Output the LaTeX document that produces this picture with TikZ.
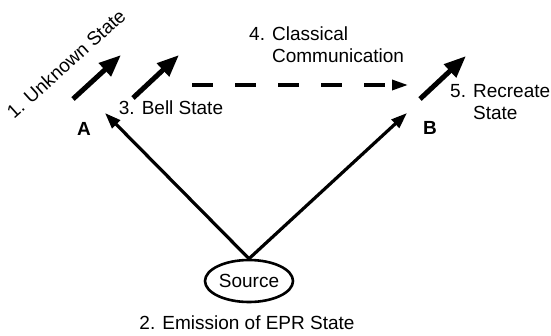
\documentclass[tikz,border=0pt]{standalone}
\usepackage{fontspec}
\setmainfont{Liberation Sans}
\usetikzlibrary{arrows.meta,shapes.geometric}
\begin{document}
\begin{tikzpicture}[x=1pt,y=-1pt,
  every node/.style={font=\fontsize{19}{22}\selectfont, inner sep=0pt},
  statearrow/.style={line width=5pt, -{Triangle[length=22pt,width=17pt]}},
  beamarrow/.style={line width=3.2pt, -{Triangle[length=16pt,width=11pt]}},
  classical/.style={line width=3.2pt, dash pattern=on 21pt off 22pt, -{Triangle[length=16pt,width=10pt]}},
  lbl/.style={align=left}]
\useasboundingbox (0,0) rectangle (551,335);
% named points
\coordinate (u0) at (73,99);
\coordinate (u1) at (121,55);
\coordinate (b0) at (133,98);
\coordinate (b1) at (179,55);
\coordinate (r0) at (420,99);
\coordinate (r1) at (466,56);
\coordinate (c0) at (192,85);
\coordinate (c1) at (408,85);
\coordinate (ta) at (105,113);
\coordinate (tb) at (407,113);
% nodes
\node[font=\fontsize{19}{22}\selectfont\bfseries] (A) at (84,129) {A};
\node[font=\fontsize{19}{22}\selectfont\bfseries] (B) at (430,128) {B};
\node[draw, ellipse, line width=2.6pt, minimum width=88pt, minimum height=42pt] (src) at (249,281) {Source};
\node (emit) at (247,323) {2. Emission of EPR State};
\node[rotate=42] (unk) at (66,64) {1. Unknown State};
\node (bell) at (171,108) {3. Bell State};
\node[lbl, anchor=north west] (cc) at (249,27) {4. Classical\\\phantom{4. }Communication};
\node[lbl, anchor=north west] (rs) at (450,84) {5. Recreate\\\phantom{5. }State};
% connectors
\draw[statearrow] (u0) -- (u1);
\draw[statearrow] (b0) -- (b1);
\draw[statearrow] (r0) -- (r1);
\draw[classical] (c0) -- (c1);
\draw[beamarrow] (src.north) -- (ta);
\draw[beamarrow] (src.north) -- (tb);
\end{tikzpicture}
\end{document}
